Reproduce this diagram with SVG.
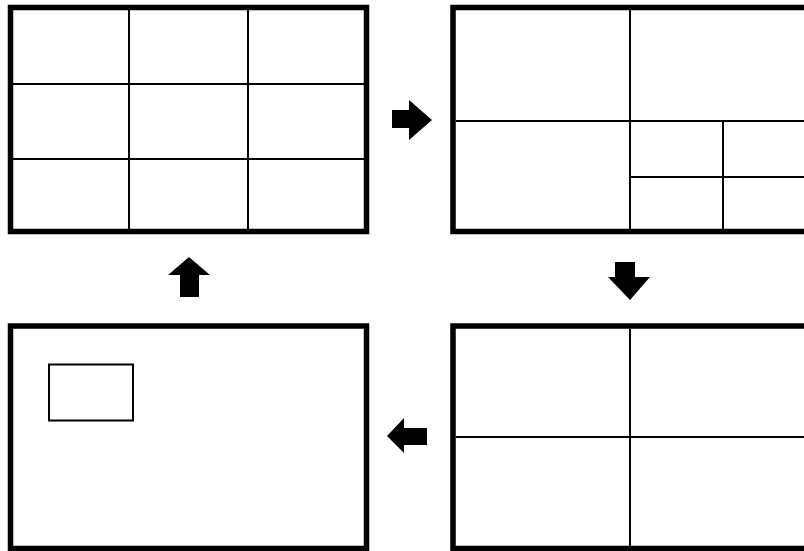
<svg xmlns="http://www.w3.org/2000/svg" width="804" height="551" viewBox="0 0 804 551">
<style>
.frame{fill:#fff;stroke:#000;stroke-width:5.5}
.thin{fill:none;stroke:#000;stroke-width:2}
.arrow{fill:#000}
</style>
<rect width="804" height="551" fill="#fff"/>
<g id="panel-grid">
<rect class="frame" x="10.5" y="7.5" width="356" height="224"/>
<path class="thin" d="M129,10V229M248,10V229M13,84H364M13,159H364"/>
</g>
<g id="panel-split">
<rect class="frame" x="453" y="7.5" width="356" height="224"/>
<path class="thin" d="M630,10V229M456,121H804M723,121V229M630,177H804"/>
</g>
<g id="panel-quad">
<rect class="frame" x="453" y="326" width="356" height="222.5"/>
<path class="thin" d="M630,329V546M456,437H804"/>
</g>
<g id="panel-window">
<rect class="frame" x="10.5" y="326" width="356" height="222.5"/>
<rect class="thin" x="49" y="364.5" width="84" height="56"/>
</g>
<g id="connectors">
<polygon class="arrow" points="392,110 409,110 409,100 432,120 409,140 409,128 392,128"/>
<polygon class="arrow" points="615,262 635,262 635,277 650,277 630,300 608,277 615,277"/>
<polygon class="arrow" points="180,297 199,297 199,275 210,275 189,257 168,275 180,275"/>
<polygon class="arrow" points="427,428 404,428 404,418 387,436 404,453 404,445 427,445"/>
</g>
</svg>
